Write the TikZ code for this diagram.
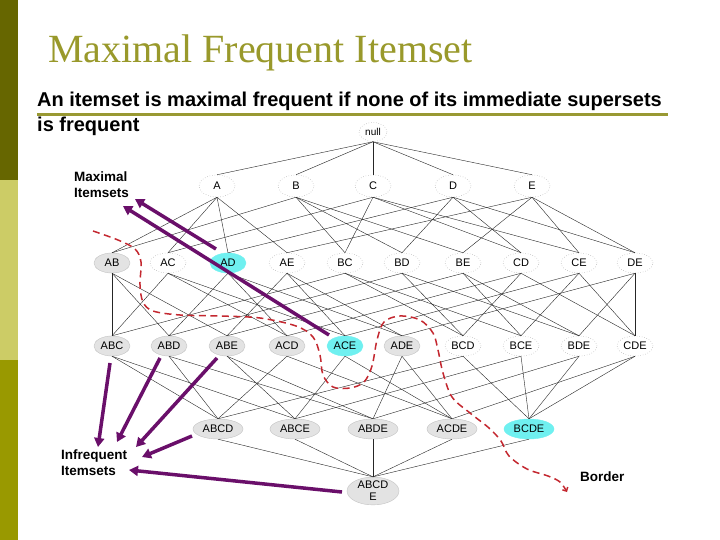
\documentclass[tikz,border=0pt]{standalone}
\usepackage{fontspec}
\setmainfont{Liberation Serif}
\newfontfamily\arial{Liberation Sans}
\usetikzlibrary{shapes.geometric,arrows.meta}
\definecolor{barA}{HTML}{666600}
\definecolor{barB}{HTML}{CCCC66}
\definecolor{barC}{HTML}{999900}
\definecolor{titlecol}{HTML}{99992B}
\definecolor{linecol}{HTML}{999933}
\definecolor{cyanfill}{HTML}{6FF0F0}
\definecolor{grayfill}{HTML}{E3E3E3}
\definecolor{grayline}{HTML}{C4C4C4}
\definecolor{dotline}{HTML}{A8A8A8}
\definecolor{redb}{HTML}{C42830}
\definecolor{purp}{HTML}{6A0F6A}
\begin{document}
\begin{tikzpicture}[x=1pt,y=-1pt,
  iset/.style={ellipse, inner sep=0pt, minimum width=36, minimum height=20,
    font=\arial\fontsize{11}{12}\selectfont},
  freq/.style={iset, draw=dotline, dotted, line width=0.5pt, fill=white},
  infreq/.style={iset, draw=grayline, fill=grayfill},
  maxi/.style={iset, draw=cyanfill, fill=cyanfill},
  wide/.style={minimum width=50},
  edge/.style={draw=black!85, line width=0.4pt},
  purparrow/.style={draw=purp, line width=3.5pt, -{Triangle[length=9pt,width=10pt]}},
  border/.style={draw=redb, line width=1.5pt, dash pattern=on 7pt off 4.5pt},
  lab/.style={anchor=base west, inner sep=0pt, align=left,
    font=\arial\bfseries\fontsize{13.5}{16}\selectfont}]
\useasboundingbox (0,0) rectangle (720,540);
\fill[white] (0,0) rectangle (720,540);
\fill[barA] (0,0) rectangle (18,180);
\fill[barB] (0,180) rectangle (18,360);
\fill[barC] (0,360) rectangle (18,540);

\node[anchor=base west, inner sep=0pt, text=titlecol,
  font=\fontsize{40}{40}\selectfont] (title) at (48,63) {Maximal Frequent Itemset};
\node[anchor=base west, inner sep=0pt,
  font=\arial\bfseries\fontsize{20}{24}\selectfont] (sub1) at (37,107)
  {An itemset is maximal frequent if none of its immediate supersets};
\node[anchor=base west, inner sep=0pt,
  font=\arial\bfseries\fontsize{20}{24}\selectfont] (sub2) at (37,132) {is frequent};
\fill[linecol] (37,113) rectangle (668,116);

% lattice nodes
\node[freq, minimum width=28, minimum height=19, font=\arial\fontsize{10}{11}\selectfont] (null) at (373,132) {null};
\node[freq, minimum height=22] (A) at (217,186) {A};
\node[freq, minimum height=22] (B) at (296,186) {B};
\node[freq, minimum height=22] (C) at (373,186) {C};
\node[freq, minimum height=22] (D) at (453,186) {D};
\node[freq, minimum height=22] (E) at (532,186) {E};

\node[infreq] (AB) at (112,263) {AB};
\node[freq]   (AC) at (168,263) {AC};
\node[maxi]   (AD) at (228,263) {AD};
\node[freq]   (AE) at (287,263) {AE};
\node[freq]   (BC) at (345,263) {BC};
\node[freq]   (BD) at (402,263) {BD};
\node[freq]   (BE) at (463,263) {BE};
\node[freq]   (CD) at (521,263) {CD};
\node[freq]   (CE) at (579,263) {CE};
\node[freq]   (DE) at (635,263) {DE};

\node[infreq] (ABC) at (112,346) {ABC};
\node[infreq] (ABD) at (169,346) {ABD};
\node[infreq] (ABE) at (227,346) {ABE};
\node[infreq] (ACD) at (287,346) {ACD};
\node[maxi]   (ACE) at (345,346) {ACE};
\node[infreq] (ADE) at (402,346) {ADE};
\node[freq]   (BCD) at (463,346) {BCD};
\node[freq]   (BCE) at (521,346) {BCE};
\node[freq]   (BDE) at (579,346) {BDE};
\node[freq]   (CDE) at (635,346) {CDE};

\node[infreq, wide] (ABCD) at (218,429) {ABCD};
\node[infreq, wide] (ABCE) at (295,429) {ABCE};
\node[infreq, wide] (ABDE) at (373,429) {ABDE};
\node[infreq, wide] (ACDE) at (452,429) {ACDE};
\node[maxi, wide]   (BCDE) at (529,429) {BCDE};

\node[infreq, minimum width=52, minimum height=24, align=center,
  font=\arial\fontsize{11}{12}\selectfont] (ABCDE) at (373,491) {ABCD\\E};

% lattice edges
\foreach \u/\v in {null/A,null/B,null/C,null/D,null/E,
  A/AB,A/AC,A/AD,A/AE,B/AB,B/BC,B/BD,B/BE,C/AC,C/BC,C/CD,C/CE,
  D/AD,D/BD,D/CD,D/DE,E/AE,E/BE,E/CE,E/DE,
  AB/ABC,AC/ABC,BC/ABC,AB/ABD,AD/ABD,BD/ABD,AB/ABE,AE/ABE,BE/ABE,
  AC/ACD,AD/ACD,CD/ACD,AC/ACE,AE/ACE,CE/ACE,AD/ADE,AE/ADE,DE/ADE,
  BC/BCD,BD/BCD,CD/BCD,BC/BCE,BE/BCE,CE/BCE,BD/BDE,BE/BDE,DE/BDE,
  CD/CDE,CE/CDE,DE/CDE,
  ABC/ABCD,ABD/ABCD,ACD/ABCD,BCD/ABCD,ABC/ABCE,ABE/ABCE,ACE/ABCE,BCE/ABCE,
  ABD/ABDE,ABE/ABDE,ADE/ABDE,BDE/ABDE,ACD/ACDE,ACE/ACDE,ADE/ACDE,CDE/ACDE,
  BCD/BCDE,BCE/BCDE,BDE/BCDE,CDE/BCDE,
  ABCD/ABCDE,ABCE/ABCDE,ABDE/ABCDE,ACDE/ABCDE,BCDE/ABCDE}
  \draw[edge] (\u.south) -- (\v.north);

% border
\draw[border, -{Straight Barb[length=3pt,width=6pt]}] plot[smooth, tension=0.55] coordinates {
  (93,231) (118,240) (135,249) (141,262) (140,285) (143,302) (153,311)
  (180,315) (220,316) (260,318) (296,326) (313,337) (320,355) (323,375)
  (333,387) (350,388) (364,382) (372,366) (377,340) (384,322) (400,316)
  (420,320) (433,333) (438,350) (443,373) (452,397) (470,413) (489,428)
  (501,441) (509,456) (527,469) (548,476) (560,482) (567,492)};

% labels (anchor at baseline of the last line)
\node[lab] (maxlab) at (74,198) {Maximal\\Itemsets};
\node[lab] (inflab) at (61,475) {Infrequent\\Itemsets};
\node[lab] (borderlab) at (580,481) {Border};

% arrow tip points
\coordinate (t1) at (135,199);
\coordinate (t2) at (123,206);
\coordinate (t3) at (98,447);
\coordinate (t4) at (117,442);
\coordinate (t5) at (136,447);
\coordinate (t6) at (142,457);
\coordinate (t7) at (129,470);

\draw[purparrow] ([shift={(-12,-14)}]AD.center) -- (t1);
\draw[purparrow] ([shift={(-16,-11)}]ACE.center) -- (t2);
\draw[purparrow] ([shift={(-2,17)}]ABC.center) -- (t3);
\draw[purparrow] ([shift={(-9,12)}]ABD.center) -- (t4);
\draw[purparrow] ([shift={(-10,12)}]ABE.center) -- (t5);
\draw[purparrow] ([shift={(-26,7)}]ABCD.center) -- (t6);
\draw[purparrow] ([shift={(-31,1)}]ABCDE.center) -- (t7);
\end{tikzpicture}
\end{document}
